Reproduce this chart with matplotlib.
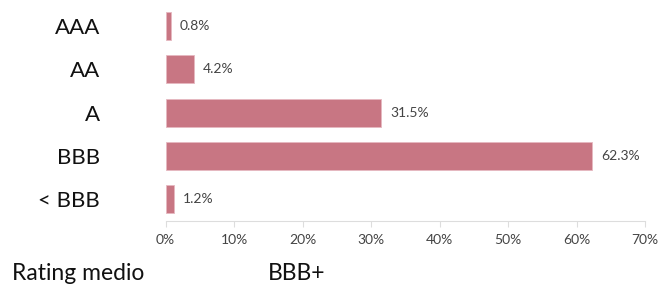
import matplotlib
matplotlib.use("Agg")
import matplotlib.pyplot as plt

categories = ["AAA", "AA", "A", "BBB", "< BBB"]
values = [0.8, 4.2, 31.5, 62.3, 1.2]
xticks = [0, 10, 20, 30, 40, 50, 60, 70]
xtick_labels = ["0%", "10%", "20%", "30%", "40%", "50%", "60%", "70%"]
footer_label = "Rating medio"
footer_value = "BBB+"

plt.rcParams['font.family'] = ['Lato', 'DejaVu Sans']

fig = plt.figure(figsize=(6.68, 2.87), dpi=100)
ax = fig.add_axes([165.5/668, 1-221/287, (645-165.5)/668, (221-4.4)/287])

ypos = list(range(len(categories)))
ax.barh(ypos, values, height=0.65, color="#c87683", edgecolor="#e6b8c0", linewidth=0.6)
for y, v in zip(ypos, values):
    ax.text(v + 1.3, y, f"{v:.1f}%", va="center", ha="left", fontsize=10, color="#444444")

ax.set_xlim(0, 70)
ax.set_ylim(4.5, -0.5)
ax.set_xticks(xticks)
ax.set_xticklabels(xtick_labels, fontsize=10, color="#444444")
ax.set_yticks(ypos)
ax.set_yticklabels(categories, fontsize=16, color="#111111")
ax.tick_params(axis="y", length=0, pad=47)
ax.tick_params(axis="x", length=4, color="#dddddd", pad=5)
for s in ["top", "right", "left"]:
    ax.spines[s].set_visible(False)
ax.spines["bottom"].set_color("#dddddd")
for lab in ax.get_yticklabels():
    lab.set_ha("right")

fig.text(12/668, 1-273/287, footer_label, fontsize=16.5, color="#111111", va="center", ha="left")
fig.text(268/668, 1-273/287, footer_value, fontsize=16.5, color="#111111", va="center", ha="left")

fig.savefig("out.png", dpi=100)
